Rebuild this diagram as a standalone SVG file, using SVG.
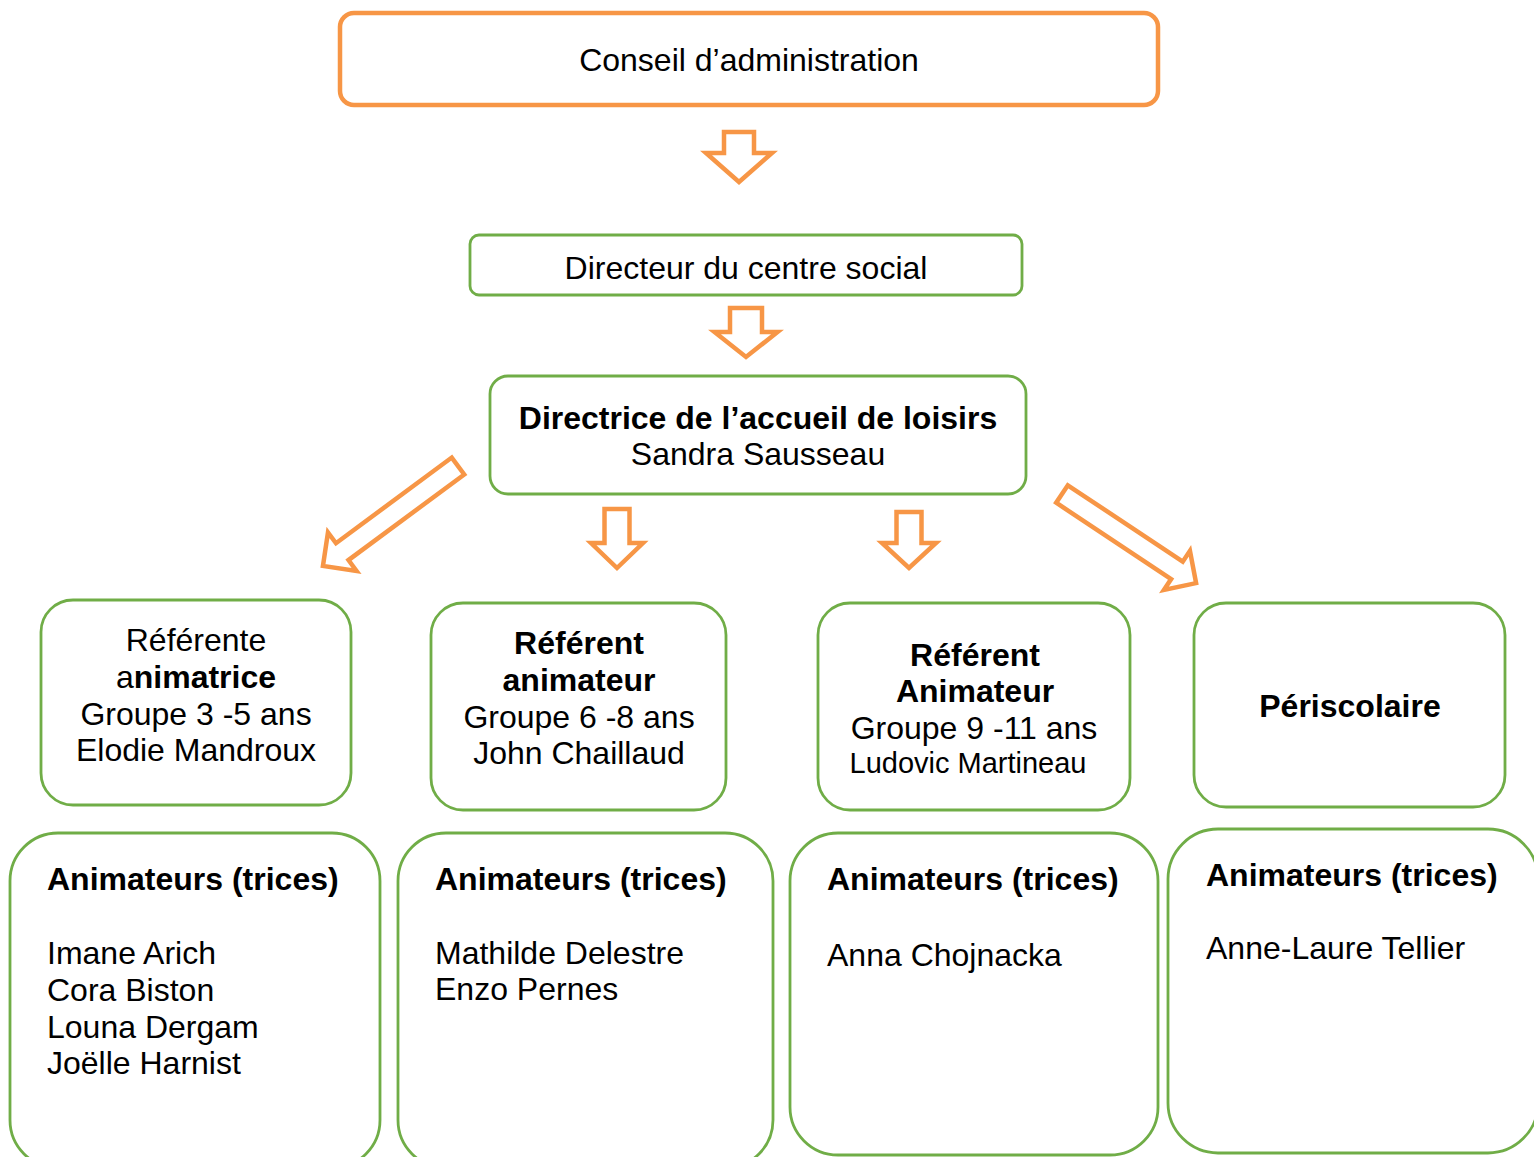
<svg xmlns="http://www.w3.org/2000/svg" width="1534" height="1157" viewBox="0 0 1534 1157">
<style>
.box{fill:#fff;stroke:#70AD47;stroke-width:2.8}
.top{fill:#fff;stroke:#F79646;stroke-width:4.5}
.arr{fill:#fff;stroke:#F79646;stroke-width:4.5;stroke-linejoin:miter}
text{font-family:"Liberation Sans",Arial,sans-serif;font-size:32px;fill:#000}
.c{text-anchor:middle}
.b{font-weight:bold}
</style>
<g id="connectors">
<path class="arr" transform="translate(739,132) rotate(90)" d="M0,-15 L21,-15 L21,-33 L50,0 L21,33 L21,15 L0,15 Z"/>
<path class="arr" transform="translate(746,308) rotate(90)" d="M0,-16 L24,-16 L24,-31.5 L49,0 L24,31.5 L24,16 L0,16 Z"/>
<path class="arr" transform="translate(617,509) rotate(90)" d="M0,-12.5 L34,-12.5 L34,-26 L59,0 L34,26 L34,12.5 L0,12.5 Z"/>
<path class="arr" transform="translate(909,512) rotate(90)" d="M0,-12.5 L31,-12.5 L31,-27 L56,0 L31,27 L31,12.5 L0,12.5 Z"/>
<path class="arr" transform="translate(458,466) rotate(143.5)" d="M0,-10.5 L144,-10.5 L144,-24 L168,0 L144,24 L144,10.5 L0,10.5 Z"/>
<path class="arr" transform="translate(1062,494) rotate(33.6)" d="M0,-10.5 L138,-10.5 L138,-23.5 L161,0 L138,23.5 L138,10.5 L0,10.5 Z"/>
</g>
<g id="conseil">
<rect class="top" x="340" y="13" width="818" height="92" rx="14"/>
<text class="c" x="749" y="71">Conseil d’administration</text>
</g>
<g id="directeur">
<rect class="box" x="470" y="235" width="552" height="60" rx="9"/>
<text class="c" x="746" y="279">Directeur du centre social</text>
</g>
<g id="directrice">
<rect class="box" x="490" y="376" width="536" height="118" rx="18"/>
<text class="c b" x="758" y="429">Directrice de l’accueil de loisirs</text>
<text class="c" x="758" y="465">Sandra Sausseau</text>
</g>
<g id="ref1">
<rect class="box" x="41" y="600" width="310" height="205" rx="32"/>
<text class="c" x="196" y="651">Référente</text>
<text class="c" x="196" y="688">a<tspan class="b">nimatrice</tspan></text>
<text class="c" x="196" y="725">Groupe 3 -5 ans</text>
<text class="c" x="196" y="761">Elodie Mandroux</text>
</g>
<g id="ref2">
<rect class="box" x="431" y="603" width="295" height="207" rx="32"/>
<text class="c b" x="579" y="654">Référent</text>
<text class="c b" x="579" y="691">animateur</text>
<text class="c" x="579" y="728">Groupe 6 -8 ans</text>
<text class="c" x="579" y="764">John Chaillaud</text>
</g>
<g id="ref3">
<rect class="box" x="818" y="603" width="312" height="207" rx="32"/>
<text class="c b" x="975" y="666">Référent</text>
<text class="c b" x="975" y="702">Animateur</text>
<text class="c" x="974" y="739">Groupe 9 -11 ans</text>
<text class="c" x="968" y="773" style="font-size:29px">Ludovic Martineau</text>
</g>
<g id="periscolaire">
<rect class="box" x="1194" y="603" width="311" height="204" rx="32"/>
<text class="c b" x="1350" y="717">Périscolaire</text>
</g>
<g id="anim1">
<rect class="box" x="10" y="833" width="370" height="335" rx="48"/>
<text class="b" x="47" y="890">Animateurs (trices)</text>
<text x="47" y="964">Imane Arich</text>
<text x="47" y="1001">Cora Biston</text>
<text x="47" y="1038">Louna Dergam</text>
<text x="47" y="1074">Joëlle Harnist</text>
</g>
<g id="anim2">
<rect class="box" x="398" y="833" width="375" height="335" rx="48"/>
<text class="b" x="435" y="890">Animateurs (trices)</text>
<text x="435" y="964">Mathilde Delestre</text>
<text x="435" y="1000">Enzo Pernes</text>
</g>
<g id="anim3">
<rect class="box" x="790" y="833" width="368" height="322" rx="48"/>
<text class="b" x="827" y="890">Animateurs (trices)</text>
<text x="827" y="966">Anna Chojnacka</text>
</g>
<g id="anim4">
<rect class="box" x="1168" y="829" width="370" height="324" rx="50"/>
<text class="b" x="1206" y="886">Animateurs (trices)</text>
<text x="1206" y="959">Anne-Laure Tellier</text>
</g>
</svg>
